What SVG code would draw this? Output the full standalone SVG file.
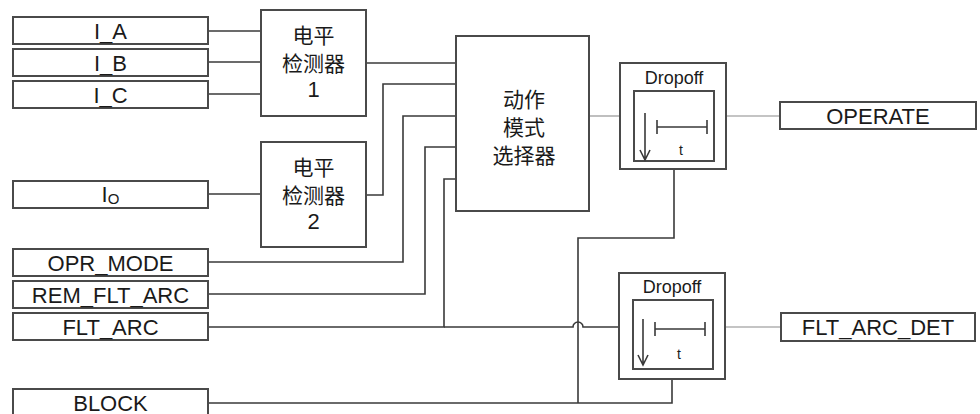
<svg xmlns="http://www.w3.org/2000/svg" width="980" height="414" viewBox="0 0 980 414">
<style>
.box{fill:#fff;stroke:#4a4a4a;stroke-width:2}
.w{fill:none;stroke:#3a3a3a;stroke-width:1.6}
.lw{fill:none;stroke:#b0b0b0;stroke-width:1.6}
.lbl{font-family:"Liberation Sans",Arial,sans-serif;font-size:22px;fill:#1a1a1a;text-anchor:middle}
.cjk{font-family:"Noto Sans CJK SC","Noto Sans CJK JP",sans-serif;font-size:21px;fill:#1a1a1a;text-anchor:middle}
.num{font-family:"Liberation Sans",Arial,sans-serif;font-size:22px;fill:#1a1a1a;text-anchor:middle}
.dt{font-family:"Liberation Sans",Arial,sans-serif;font-size:18px;fill:#1a1a1a;text-anchor:middle}
.t{font-family:"Liberation Sans",Arial,sans-serif;font-size:14px;fill:#1a1a1a;text-anchor:middle}
</style>
<rect width="980" height="414" fill="#fff"/>
<g id="connectors">
<path class="w" d="M208,31 H261"/>
<path class="w" d="M208,62 H261"/>
<path class="w" d="M208,94 H261"/>
<path class="w" d="M208,194 H261"/>
<path class="w" d="M366,63 H456"/>
<path class="w" d="M366,195 H383 V84 H456"/>
<path class="w" d="M208,262 H403 V116 H456"/>
<path class="w" d="M208,294 H425 V147 H456"/>
<path class="w" d="M208,327 H444 V179 H456"/>
<path class="w" d="M444,327 H573 A5,5 0 0 1 583,327 H619"/>
<path class="w" d="M674,169 V238 H578 V403"/>
<path class="w" d="M208,403 H672 V379"/>
<path class="lw" d="M589,116 H620"/>
<path class="lw" d="M726,116 H780"/>
<path class="lw" d="M725,327 H781"/>
</g>
<g id="in_IA"><rect class="box" x="13" y="17" width="195" height="27"/><text class="lbl" x="110.5" y="38.5">I_A</text></g>
<g id="in_IB"><rect class="box" x="13" y="49" width="195" height="27"/><text class="lbl" x="110.5" y="70.5">I_B</text></g>
<g id="in_IC"><rect class="box" x="13" y="81" width="195" height="27"/><text class="lbl" x="110.5" y="102.5">I_C</text></g>
<g id="in_IO"><rect class="box" x="13" y="181" width="195" height="27"/><text class="lbl" x="110.5" y="202">I<tspan font-size="15" dy="2">O</tspan></text></g>
<g id="in_OPR_MODE"><rect class="box" x="13" y="249" width="195" height="27"/><text class="lbl" x="110.5" y="270.5">OPR_MODE</text></g>
<g id="in_REM_FLT_ARC"><rect class="box" x="13" y="281" width="195" height="27"/><text class="lbl" x="110.5" y="302.5">REM_FLT_ARC</text></g>
<g id="in_FLT_ARC"><rect class="box" x="13" y="313" width="195" height="27"/><text class="lbl" x="110.5" y="334.5">FLT_ARC</text></g>
<g id="in_BLOCK"><rect class="box" x="13" y="389" width="195" height="30"/><text class="lbl" x="110.5" y="410.5">BLOCK</text></g>
<g id="ld1"><rect class="box" x="261" y="10" width="105" height="106"/>
<text class="cjk" x="313.5" y="43">电平</text><text class="cjk" x="313.5" y="71">检测器</text><text class="num" x="313.5" y="97">1</text></g>
<g id="ld2"><rect class="box" x="261" y="142" width="105" height="105"/>
<text class="cjk" x="313.5" y="175">电平</text><text class="cjk" x="313.5" y="203">检测器</text><text class="num" x="313.5" y="229">2</text></g>
<g id="selector"><rect class="box" x="456" y="36" width="133" height="175"/>
<text class="cjk" x="524" y="107">动作</text><text class="cjk" x="524" y="135">模式</text><text class="cjk" x="524" y="163">选择器</text></g>
<g id="dropoff1"><rect class="box" x="620" y="63" width="106" height="106"/>
<text class="dt" x="674" y="84">Dropoff</text>
<rect class="box" x="634" y="91" width="80" height="70"/>
<path class="w" d="M645,113 V160 M640,150 L645,160 L650,150 M657,127 H707 M657,120 V134 M707,120 V134"/>
<text class="t" x="681" y="155">t</text></g>
<g id="dropoff2"><rect class="box" x="619" y="273" width="106" height="106"/>
<text class="dt" x="672" y="293">Dropoff</text>
<rect class="box" x="633" y="300" width="80" height="69"/>
<path class="w" d="M643,319 V365 M638,355 L643,365 L648,355 M655,329 H705 M655,322 V336 M705,322 V336"/>
<text class="t" x="679" y="359">t</text></g>
<g id="out_OPERATE"><rect class="box" x="780" y="102" width="196" height="27"/><text class="lbl" x="878" y="123.5">OPERATE</text></g>
<g id="out_FLT_ARC_DET"><rect class="box" x="781" y="313" width="194" height="28"/><text class="lbl" x="878" y="334.5">FLT_ARC_DET</text></g>
</svg>
